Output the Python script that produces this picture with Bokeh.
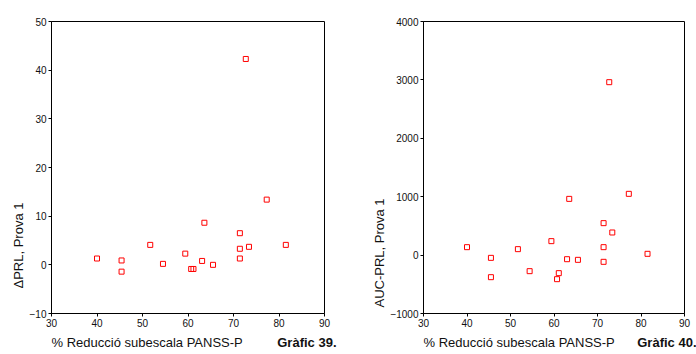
from bokeh.plotting import figure
from bokeh.layouts import row
from bokeh.models import Range1d, FixedTicker, Title
from bokeh.embed import file_html
from bokeh.resources import INLINE

# Data
reduction_pct = [40.0, 45.4, 45.4, 51.7, 54.5, 59.4, 60.7, 61.2, 63.1, 63.6,
                 65.5, 71.4, 71.4, 71.4, 73.4, 72.7, 77.3, 81.5]
delta_prl = [1.3, 0.9, -1.4, 4.1, 0.2, 2.3, -0.85, -0.85, 0.8, 8.65,
             0.0, 6.5, 3.3, 1.3, 3.7, 42.3, 13.4, 4.1]
auc_reduction_pct = [40.0, 45.5, 45.5, 51.7, 54.4, 59.4, 60.7, 61.1, 63.0, 63.5,
                     65.5, 71.4, 71.4, 71.4, 73.4, 72.7, 77.2, 81.5]
auc_prl = [136, -47, -378, 102, -275, 239, -412, -309, -70, 963,
           -81, 547, 136, -115, 387, 2961, 1049, 22]

x_ticks = [30, 40, 50, 60, 70, 80, 90]
y1_ticks = [-10, 0, 10, 20, 30, 40, 50]
y2_ticks = [-1000, 0, 1000, 2000, 3000, 4000]

x_label = "% Reducció subescala PANSS-P"
y1_label = "\u0394PRL, Prova 1"
y2_label = "AUC-PRL, Prova 1"
cap1 = "Gràfic 39."
cap2 = "Gràfic 40."

FONT = "Liberation Sans"


def make_plot(xs, ys, yr, yticks, ylabel, caption, width, bl, br, ytitle_offset, cap_offset):
    p = figure(width=width, height=354, output_backend="svg", toolbar_location=None,
               x_range=Range1d(30, 90), y_range=Range1d(*yr),
               min_border_left=bl, min_border_right=br, min_border_top=21, min_border_bottom=41)
    p.xgrid.visible = False
    p.ygrid.visible = False
    p.outline_line_color = "black"
    p.outline_line_width = 1
    p.background_fill_color = "white"
    p.border_fill_color = "white"
    for ax, t in ((p.xaxis[0], x_ticks), (p.yaxis[0], yticks)):
        ax.ticker = FixedTicker(ticks=t)
        ax.minor_tick_line_color = None
        ax.major_tick_out = 3
        ax.major_tick_in = 0
        ax.axis_line_color = "black"
        ax.major_tick_line_color = "black"
        ax.major_label_text_font = FONT
        ax.major_label_text_font_size = "10px"
        ax.major_label_text_color = "#111111"
        ax.major_label_standoff = 2
    p.scatter(xs, ys, marker="square", size=5, fill_color=None,
              line_color="red", line_width=1)
    p.add_layout(Title(text=x_label, align="left", text_font=FONT, text_font_size="13px",
                       text_font_style="normal", text_color="#111111", standoff=6), "below")
    p.add_layout(Title(text=caption, align="right", offset=cap_offset, text_font=FONT,
                       text_font_size="13px", text_font_style="bold", vertical_align="top",
                       text_color="#111111", standoff=-36), "below")
    p.add_layout(Title(text=ylabel, align="left", offset=ytitle_offset, text_font=FONT,
                       text_font_size="13px", text_font_style="normal",
                       text_color="#111111", standoff=2), "left")
    return p


p1 = make_plot(reduction_pct, delta_prl, (-10, 50), y1_ticks, y1_label, cap1,
               348, 51, 24, 25, -12)
p2 = make_plot(auc_reduction_pct, auc_prl, (-1000, 4000), y2_ticks, y2_label, cap2,
               348, 75, 12, 6, -12)

layout = row(p1, p2)
open("out.html", "w").write(file_html(layout, INLINE))
